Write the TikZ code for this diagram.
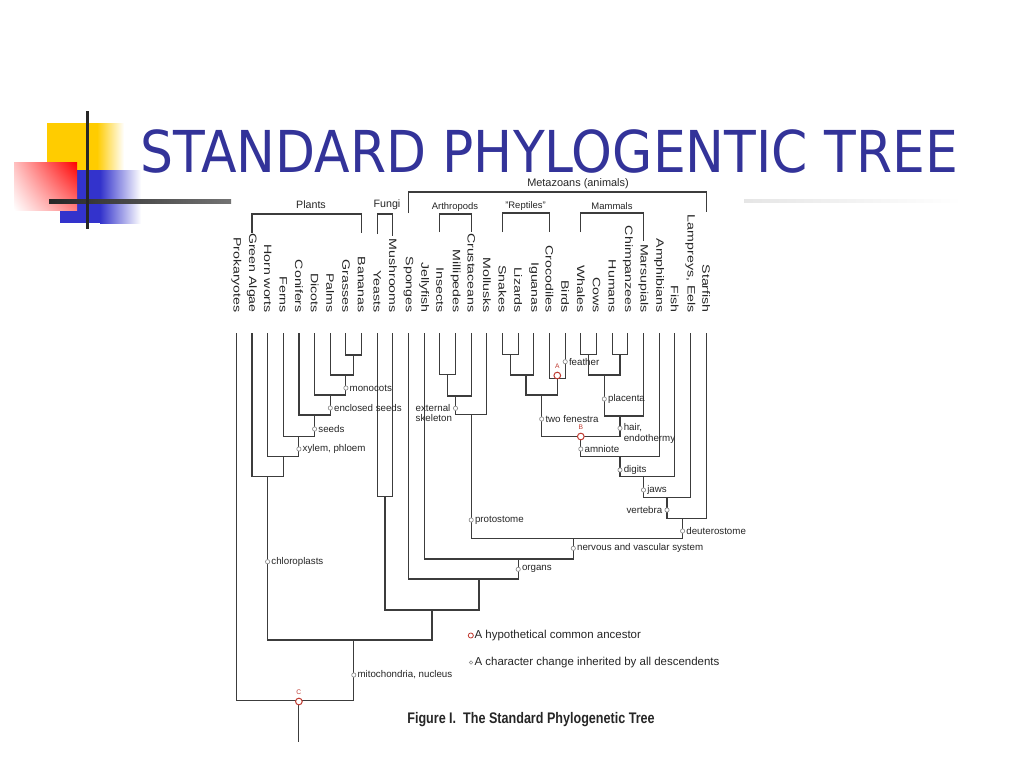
\documentclass[tikz,border=0pt]{standalone}
\usepackage{fontspec}
\setmainfont{Liberation Sans}
\newfontfamily\titlefont{DejaVu Sans}
\usetikzlibrary{shadings}
\definecolor{titleblue}{RGB}{51,51,153}
\definecolor{treeline}{RGB}{60,60,60}
\definecolor{ancred}{RGB}{192,60,50}
\definecolor{logoyellow}{RGB}{255,204,0}
\definecolor{logoblue}{RGB}{51,51,204}
\begin{document}
\begin{tikzpicture}[x=0.75pt,y=-0.75pt,
  treeedge/.style={draw=treeline,line width=0.85pt},
  leaflabel/.style={rotate=-90,anchor=east,inner sep=0pt,text=black!85,font=\fontsize{8}{9}\selectfont},
  grouplabel/.style={inner sep=0pt,text=black!85,font=\fontsize{8}{9}\selectfont},
  smallgroup/.style={inner sep=0pt,text=black!85,font=\fontsize{7.1}{8}\selectfont},
  charmark/.style={circle,draw=black!45,fill=white,line width=0.5pt,inner sep=0pt,minimum size=3.2pt},
  ancmark/.style={circle,draw=ancred,fill=white,line width=0.75pt,inner sep=0pt,minimum size=5pt},
  charlabel/.style={anchor=west,inner sep=0pt,text=black!85,font=\fontsize{7.3}{7.8}\selectfont},
  anclabel/.style={inner sep=0pt,text=ancred,font=\fontsize{5}{6}\selectfont},
  legendtext/.style={anchor=west,inner sep=0pt,text=black!85,font=\fontsize{8.6}{10}\selectfont}
]
\useasboundingbox (0,0) rectangle (1024,768);
\fill[white] (0,0) rectangle (1024,768);

% ---- logo ----
\fill[logoyellow] (47,123) rectangle (97,172);
\shade[left color=logoyellow,right color=white] (97,123) rectangle (124,172);
\fill[logoblue] (60,170) rectangle (100,223);
\shade[left color=logoblue,right color=white] (100,170) rectangle (141,223);
\shade[upper left=red!25,upper right=red,lower left=white,lower right=red!50] (14,162) rectangle (77,210);
\shade[left color=black!85,right color=black!55] (49,199) rectangle (231,203);
\fill[black!85] (85.5,111) rectangle (89,229);
\shade[left color=black!10,right color=white] (744,199.5) rectangle (962,202.5);

% ---- title ----
\node[anchor=base west,inner sep=0pt,text=titleblue,font=\titlefont\fontsize{43.3}{50}\selectfont] (title) at (140,172) {\scalebox{0.9}[1]{STANDARD PHYLOGENTIC TREE}};

% ---- leaves ----
\foreach \i/\t in {0/Prokaryotes,1/Green Algae,2/Horn worts,3/Ferns,4/Conifers,5/Dicots,6/Palms,7/Grasses,8/Bananas,9/Yeasts,10/Mushrooms,11/Sponges,12/Jellyfish,13/Insects,14/Millipedes,15/Crustaceans,16/Mollusks,17/Snakes,18/Lizards,19/Iguanas,20/Crocodiles,21/Birds,22/Whales,23/Cows,24/Humans,25/Chimpanzees,26/Marsupials,27/Amphibians,28/Fish,29/{Lampreys, Eels},30/Starfish}{
  \pgfmathsetmacro\xx{236.3+15.66*\i}
  \coordinate (L\i) at (\xx,333);
  \node[leaflabel] (N\i) at (\xx,313) {\scalebox{1.33}[1]{\t}};
}

% ---- group brackets ----
\coordinate (plA) at (252,233);   \coordinate (plT) at (306.8,214); \coordinate (plB) at (361.6,233);
\coordinate (fuA) at (377.2,234); \coordinate (fuT) at (385,214);   \coordinate (fuB) at (392.9,236);
\coordinate (meA) at (408.6,213); \coordinate (meT) at (557,192);   \coordinate (meB) at (706.1,212);
\coordinate (arA) at (439.9,232); \coordinate (arT) at (455.5,214); \coordinate (arB) at (471.2,232);
\coordinate (reA) at (502.5,232); \coordinate (reT) at (526,213);   \coordinate (reB) at (549.5,232);
\coordinate (maA) at (580.8,232); \coordinate (maT) at (612,213);   \coordinate (maB) at (643.5,241);
\draw[treeedge] (plA) |- (plT) -| (plB);
\draw[treeedge] (fuA) |- (fuT) -| (fuB);
\draw[treeedge] (meA) |- (meT) -| (meB);
\draw[treeedge] (arA) |- (arT) -| (arB);
\draw[treeedge] (reA) |- (reT) -| (reB);
\draw[treeedge] (maA) |- (maT) -| (maB);
\node[grouplabel] (gPlants) at (311,205) {Plants};
\node[grouplabel] (gFungi) at (387,205) {Fungi};
\node[grouplabel,font=\fontsize{8.2}{9}\selectfont] (gMeta) at (578,184) {Metazoans (animals)};
\node[smallgroup] (gArth) at (455,207) {Arthropods};
\node[smallgroup] (gRept) at (525.5,206) {"Reptiles"};
\node[smallgroup] (gMamm) at (612,206) {Mammals};

% ---- internal joins ----
\coordinate (gb)   at (353.8,355);
\coordinate (pa)   at (345.9,375);
\coordinate (mono) at (330.3,395);
\coordinate (cs)   at (314.6,415);
\coordinate (fs)   at (298.9,436.7);
\coordinate (hw)   at (283.3,456.7);
\coordinate (ga)   at (267.6,476.7);
\coordinate (fu)   at (385.0,496.7);
\coordinate (im)   at (447.7,374.3);
\coordinate (ar)   at (455.5,396);
\coordinate (pr)   at (471.2,414.3);
\coordinate (sl)   at (510.4,354.3);
\coordinate (sli)  at (526.0,375);
\coordinate (cb)   at (557.3,378.3);
\coordinate (rep)  at (541.7,395);
\coordinate (wc)   at (588.7,354.3);
\coordinate (hc)   at (620.0,354.3);
\coordinate (eu)   at (604.3,375);
\coordinate (mam)  at (620.0,416);
\coordinate (amn)  at (580.8,436.7);
\coordinate (tet)  at (620.0,456.7);
\coordinate (gna)  at (643.5,476.7);
\coordinate (ver)  at (667.0,497.3);
\coordinate (deu)  at (682.6,518.3);
\coordinate (bil)  at (573.3,538.3);
\coordinate (eum)  at (518.2,559);
\coordinate (met)  at (479.0,579);
\coordinate (opi)  at (432.0,610);
\coordinate (euk)  at (353.8,640);
\coordinate (root) at (298.9,700.7);
\coordinate (rootend) at (298.9,741.7);

% ---- branches ----
\draw[treeedge] (L7) |- (gb) -| (L8);
\draw[treeedge] (L6) |- (pa) -| (gb);
\draw[treeedge] (L5) |- (mono) -| (pa);
\draw[treeedge] (L4) |- (cs) -| (mono);
\draw[treeedge] (L3) |- (fs) -| (cs);
\draw[treeedge] (L2) |- (hw) -| (fs);
\draw[treeedge] (L1) |- (ga) -| (hw);
\draw[treeedge] (L9) |- (fu) -| (L10);
\draw[treeedge] (L13) |- (im) -| (L14);
\draw[treeedge] (im) |- (ar) -| (L15);
\draw[treeedge] (ar) |- (pr) -| (L16);
\draw[treeedge] (L17) |- (sl) -| (L18);
\draw[treeedge] (sl) |- (sli) -| (L19);
\draw[treeedge] (L20) |- (cb) -| (L21);
\draw[treeedge] (sli) |- (rep) -| (cb);
\draw[treeedge] (L22) |- (wc) -| (L23);
\draw[treeedge] (L24) |- (hc) -| (L25);
\draw[treeedge] (wc) |- (eu) -| (hc);
\draw[treeedge] (eu) |- (mam) -| (L26);
\draw[treeedge] (rep) |- (amn) -| (mam);
\draw[treeedge] (amn) |- (tet) -| (L27);
\draw[treeedge] (tet) |- (gna) -| (L28);
\draw[treeedge] (gna) |- (ver) -| (L29);
\draw[treeedge] (ver) |- (deu) -| (L30);
\draw[treeedge] (pr) |- (bil) -| (deu);
\draw[treeedge] (L12) |- (eum) -| (bil);
\draw[treeedge] (L11) |- (met) -| (eum);
\draw[treeedge] (fu) |- (opi) -| (met);
\draw[treeedge] (ga) |- (euk) -| (opi);
\draw[treeedge] (L0) |- (root) -| (euk);
\draw[treeedge] (root) -- (rootend);

% ---- character changes ----
\node[charmark] (mMono) at (345.9,388) {};
\node[charlabel] (tMono) at ([xshift=0.8pt]mMono.east) {monocots};
\node[charmark] (mEncl) at (330.3,408) {};
\node[charlabel] (tEncl) at ([xshift=0.8pt]mEncl.east) {enclosed seeds};
\node[charmark] (mSeed) at (314.6,429) {};
\node[charlabel] (tSeed) at ([xshift=0.8pt]mSeed.east) {seeds};
\node[charmark] (mXyl) at (298.9,449) {};
\node[charlabel] (tXyl) at ([xshift=0.8pt]mXyl.east) {xylem, phloem};
\node[charmark] (mChl) at (267.6,561.7) {};
\node[charlabel] (tChl) at ([xshift=0.8pt]mChl.east) {chloroplasts};
\node[charmark] (mMit) at (353.8,675) {};
\node[charlabel] (tMit) at ([xshift=0.8pt]mMit.east) {mitochondria, nucleus};
\node[charmark] (mExt) at (455.5,408.3) {};
\node[charlabel,anchor=east,align=left] (tExt) at ([xshift=-0.6pt,yshift=-3.7pt]mExt.west) {external\\skeleton};
\node[charmark] (mPro) at (471.2,520) {};
\node[charlabel] (tPro) at ([xshift=0.8pt]mPro.east) {protostome};
\node[charmark] (mFea) at (565.2,361.7) {};
\node[charlabel] (tFea) at ([xshift=0.8pt]mFea.east) {feather};
\node[charmark] (mFen) at (541.7,419) {};
\node[charlabel] (tFen) at ([xshift=0.8pt]mFen.east) {two fenestra};
\node[charmark] (mPla) at (604.3,399) {};
\node[charlabel] (tPla) at ([xshift=0.8pt]mPla.east) {placenta};
\node[charmark] (mHai) at (620.0,428.3) {};
\node[charlabel,align=left] (tHai) at ([xshift=0.8pt,yshift=-3.8pt]mHai.east) {hair,\\endothermy};
\node[charmark] (mAmn) at (580.8,449) {};
\node[charlabel] (tAmn) at ([xshift=0.8pt]mAmn.east) {amniote};
\node[charmark] (mDig) at (620.0,470) {};
\node[charlabel] (tDig) at ([xshift=0.8pt]mDig.east) {digits};
\node[charmark] (mJaw) at (643.5,490) {};
\node[charlabel] (tJaw) at ([xshift=0.8pt]mJaw.east) {jaws};
\node[charmark] (mVer) at (667.0,510) {};
\node[charlabel,anchor=east] (tVer) at ([xshift=-1.5pt]mVer.west) {vertebra};
\node[charmark] (mDeu) at (682.6,531) {};
\node[charlabel] (tDeu) at ([xshift=0.8pt]mDeu.east) {deuterostome};
\node[charmark] (mNer) at (573.3,548.3) {};
\node[charlabel] (tNer) at ([xshift=0.8pt]mNer.east) {nervous and vascular system};
\node[charmark] (mOrg) at (518.2,569.3) {};
\node[charlabel] (tOrg) at ([xshift=0.8pt]mOrg.east) {organs};

% ---- hypothetical ancestors ----
\node[ancmark] (aA) at (557.3,375.5) {};
\node[anclabel] (tA) at (557.3,366) {A};
\node[ancmark] (aB) at (580.8,436.5) {};
\node[anclabel] (tB) at (580.8,427.3) {B};
\node[ancmark] (aC) at (298.9,701.5) {};
\node[anclabel] (tC) at (298.9,692.3) {C};

% ---- legend ----
\node[ancmark,minimum size=3.8pt,line width=0.6pt] (lgA) at (470.8,635.5) {};
\node[legendtext] (lgAt) at (474.3,636) {A hypothetical common ancestor};
\node[charmark,minimum size=2.6pt] (lgB) at (471,662.5) {};
\node[legendtext] (lgBt) at (474.3,663) {A character change inherited by all descendents};

% ---- caption ----
\node[inner sep=0pt,text=black!85,font=\bfseries\fontsize{11.5}{13}\selectfont] (caption) at (531,720) {\scalebox{0.82}[1]{Figure I.\ \ The Standard Phylogenetic Tree}};
\end{tikzpicture}
\end{document}
